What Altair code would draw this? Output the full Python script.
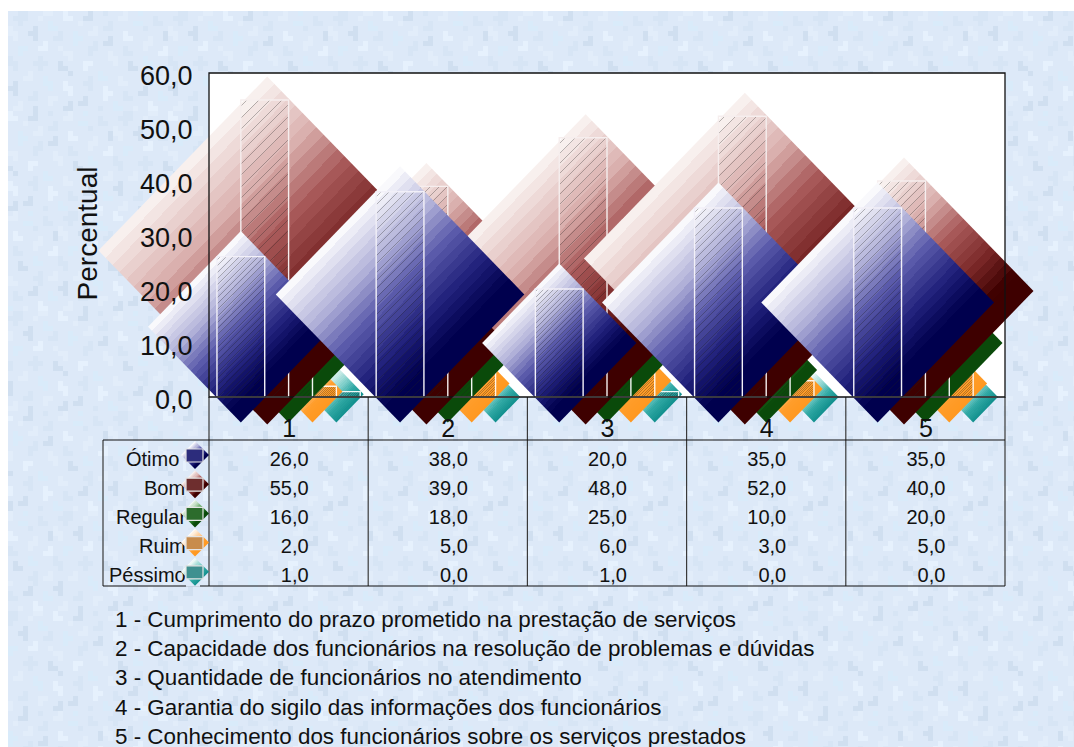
import altair as alt

# Survey results, percent of answers per question
QUESTIONS = [1, 2, 3, 4, 5]
RATINGS = ["Ótimo", "Bom", "Regular", "Ruim", "Péssimo"]
OTIMO = [26.0, 38.0, 20.0, 35.0, 35.0]
BOM = [55.0, 39.0, 48.0, 52.0, 40.0]
REGULAR = [16.0, 18.0, 25.0, 10.0, 20.0]
RUIM = [2.0, 5.0, 6.0, 3.0, 5.0]
PESSIMO = [1.0, 0.0, 1.0, 0.0, 0.0]
SERIES = [OTIMO, BOM, REGULAR, RUIM, PESSIMO]
NOTES = [
    "1 - Cumprimento do prazo prometido na prestação de serviços",
    "2 - Capacidade dos funcionários na resolução de problemas e dúvidas",
    "3 - Quantidade de funcionários no atendimento",
    "4 - Garantia do sigilo das informações dos funcionários",
    "5 - Conhecimento dos funcionários sobre os serviços prestados",
]

# Layout of the page, in pixels
PLOT_L, PLOT_T, PLOT_W, PLOT_H = 209, 73, 796, 324
TABLE_L, TABLE_T, TABLE_B = 103, 440, 586
FONT = "Liberation Sans"
Y_MAX = 60
PX_PER_UNIT = PLOT_H / Y_MAX
PX_PER_QUESTION = PLOT_W / 5
BAR_STEP = 0.15
BAR_WIDTH = 0.30
DIAMOND_PAD = 25.5

# Colour ramps: (position along the ramp, colour)
RAMPS = [
    [(0, "#ffffff"), (0.05, "#f0f0f8"), (0.27, "#b0b0d8"), (0.47, "#5c5cac"), (0.7, "#20207a"), (0.88, "#00004e"), (1, "#00004e")],
    [(0, "#fbf5f3"), (0.05, "#f4e8e6"), (0.27, "#dab0ae"), (0.47, "#a95a5a"), (0.68, "#7a2828"), (0.86, "#3e0000"), (1, "#3e0000")],
    [(0, "#ffffff"), (0.05, "#e6f2e6"), (0.27, "#a8d0a8"), (0.47, "#5aa05a"), (0.68, "#1f701f"), (0.86, "#0a4a0a"), (1, "#0a4a0a")],
    [(0, "#ffffff"), (0.1, "#fff0df"), (0.45, "#ffc689"), (0.7, "#ff9d2b"), (1, "#ff981f")],
    [(0, "#ffffff"), (0.1, "#dff3f0"), (0.45, "#7fcfca"), (0.7, "#30a8a4"), (1, "#118f8d")],
]
BAR_STROKES = ["#f2f0f8", "#f6eeee", "#f2f6f2", "#fff4e8", "#eef8f6"]
KEY_FILLS = ["#2c2c7c", "#6e2e2e", "#2c6c2c", "#c88c4c", "#3e9090"]
HATCH = "rgba(30,30,30,0.30)"
CLEAR = "rgba(30,30,30,0)"

# Repeating tile of the page background, one character per 5 px cell
TILE = [
    "..11...33..4....2..1...3..5.....",
    ".111..3....44..22.....33.....1..",
    "..1.....5.....3.....1....55..11.",
    "3....2..55.......3.11......1....",
    "33..22....1..5..33.....4.......2",
    ".3...2...11..55.....2..44...3..2",
    ".......4.....5...1.22......33...",
    "..55..44..3.....11.....1...3...4",
    "..5........33...1...3..11.....44",
    "1.....1.....3.......33.....5....",
    "11...111..2....44....3..2..55...",
    ".1....1...22...4........22......",
    "....3.......2.....5.........1..3",
    "...33..5........1.55..3....11.33",
    ".2.....55..4...11.....33....1...",
    "22......5..44...1..4.......2....",
    ".2...1......4......44..1..22..5.",
    "....11..33.....2...4...11.....55",
    "..3.....3...2.22.....5......4...",
    ".33..2.....22.....1..55..3..44..",
]
SHADES = {"1": "#d7e5f5", "2": "#d0dff0", "3": "#e2edfa", "4": "#e6f1fd", "5": "#d9ebfa"}
PAGE_BASE = "#dde9f8"


def hex_rgb(c):
    return [int(c[i:i + 2], 16) for i in (1, 3, 5)]


def ramp_colour(ramp, f):
    for (p0, c0), (p1, c1) in zip(ramp, ramp[1:]):
        if f <= p1:
            t = (f - p0) / (p1 - p0)
            rgb = [round(a + (b - a) * t) for a, b in zip(hex_rgb(c0), hex_rgb(c1))]
            return "#%02x%02x%02x" % tuple(rgb)
    return ramp[-1][1]


def banded_fill(ramp, bands=24):
    """Stepped diagonal gradient running from the upper-left to the lower-right edge."""
    stops = []
    for b in range(bands):
        col = ramp_colour(ramp, (b + 0.5) / bands)
        stops.append({"offset": round(0.25 + 0.5 * b / bands, 4), "color": col})
        stops.append({"offset": round(0.25 + 0.5 * (b + 1) / bands, 4), "color": col})
    return {"gradient": "linear", "x1": 0, "y1": 0, "x2": 1, "y2": 1, "stops": stops}


def hatch_fill(w, h, lines=30):
    """Thin 45 degree lines inside a w x h box, drawn as a hard-stopped gradient."""
    span = w + h
    stops = []
    thick = 1.0 / span
    for k in range(lines):
        a = (k + 0.5) / lines
        b = min(a + thick, 0.999)
        stops += [
            {"offset": round(a, 5), "color": CLEAR},
            {"offset": round(a, 5), "color": HATCH},
            {"offset": round(b, 5), "color": HATCH},
            {"offset": round(b, 5), "color": CLEAR},
        ]
    d = w * w + h * h
    return {"gradient": "linear", "x1": 0, "y1": 0, "x2": w * span / d, "y2": h * span / d, "stops": stops}


x_scale = alt.Scale(domain=[0.5, 5.5], nice=False, zero=False)
y_scale = alt.Scale(domain=[0, Y_MAX], nice=False)
x_axis = alt.Axis(
    values=QUESTIONS, format="d", grid=False, domain=False, ticks=False, zindex=1, title=None,
    labelFont=FONT, labelFontSize=25, labelColor="#111", labelPadding=19, labelFlush=False, labelOverlap=False,
)
y_axis = alt.Axis(
    values=list(range(0, 61, 10)),
    labelExpr="replace(format(datum.value,'.1f'),'.',',')",
    grid=False, domain=False, ticks=False, zindex=1, title="Percentual",
    labelFont=FONT, labelFontSize=27, labelColor="#111", labelPadding=17, labelOverlap=False, labelOffset=3,
    titleFont=FONT, titleFontSize=28, titleFontWeight="normal", titleColor="#111", titlePadding=37, titleY=160,
)
px_x = lambda f: alt.X(f, type="quantitative", scale=None, axis=None)
px_y = lambda f: alt.Y(f, type="quantitative", scale=None, axis=None)
on_x = lambda f: alt.X(f, type="quantitative", scale=x_scale, axis=x_axis)
on_y = lambda f: alt.Y(f, type="quantitative", scale=y_scale, axis=y_axis)
DIAMOND = "M-0.97,0L0,-1L0.97,0L0,1Z"

layers = []

# Page background
cells = []
for r in range(0, (747 - 11) // 5 + 1):
    row = TILE[r % len(TILE)]
    shift = 11 * (r // len(TILE))
    for c in range(0, (1074 - 8) // 5 + 1):
        ch = row[(c + shift) % len(row)]
        if ch != ".":
            x = 8 + c * 5 - PLOT_L
            y = 11 + r * 5 - PLOT_T
            cells.append({"x": x, "x2": x + 5, "y": y, "y2": y + 5, "c": SHADES[ch]})
layers.append(
    alt.Chart(alt.Data(values=[{"x": 8 - PLOT_L, "x2": 1074 - PLOT_L, "y": 11 - PLOT_T, "y2": 747 - PLOT_T}]))
    .mark_rect(fill=PAGE_BASE)
    .encode(x=px_x("x"), x2="x2:Q", y=px_y("y"), y2="y2:Q")
)
layers.append(
    alt.Chart(alt.Data(values=cells))
    .mark_rect(strokeWidth=0)
    .encode(x=px_x("x"), x2="x2:Q", y=px_y("y"), y2="y2:Q", fill=alt.Fill("c:N", scale=None, legend=None))
)

# White plot area
layers.append(
    alt.Chart(alt.Data(values=[{"x0": 0.5, "x1": 5.5, "y0": 0, "y1": Y_MAX}]))
    .mark_rect(fill="white")
    .encode(x=on_x("x0"), x2="x1:Q", y=on_y("y0"), y2="y1:Q")
)

# Table grid
layers.append(
    alt.Chart(alt.Data(values=[{"e": q - 0.5, "a": PLOT_H, "b": TABLE_B - PLOT_T} for q in QUESTIONS + [6]]))
    .mark_rule(color="#3a3a3a", strokeWidth=1.2)
    .encode(x=on_x("e"), y=px_y("a"), y2="b:Q")
)
layers.append(
    alt.Chart(alt.Data(values=[{"x": TABLE_L - PLOT_L, "a": TABLE_T - PLOT_T, "b": TABLE_B - PLOT_T}]))
    .mark_rule(color="#3a3a3a", strokeWidth=1.2)
    .encode(x=px_x("x"), y=px_y("a"), y2="b:Q")
)
layers.append(
    alt.Chart(alt.Data(values=[{"a": TABLE_L - PLOT_L, "b": PLOT_W, "y": yy - PLOT_T} for yy in (TABLE_T, TABLE_B)]))
    .mark_rule(color="#111", strokeWidth=1.2)
    .encode(x=px_x("a"), x2="b:Q", y=px_y("y"))
)

# One diamond plus one hatched bar per answer; the lowest rating is painted
# first, so the "Ótimo" series ends up on top of everything else
for si in reversed(range(len(RATINGS))):
    for qi, q in enumerate(QUESTIONS):
        value = SERIES[si][qi]
        bar_h = value * PX_PER_UNIT
        bar_w = BAR_WIDTH * PX_PER_QUESTION
        half = DIAMOND_PAD + bar_h / 2
        centre = q + (si - 2) * BAR_STEP
        # the "Bom" diamonds sit a little right of and below their bars
        shift_x = 2.5 / PX_PER_QUESTION if si == 1 else 0
        shift_y = 2 / PX_PER_UNIT if si == 1 else 0
        layers.append(
            alt.Chart(alt.Data(values=[{
                "x": centre + shift_x,
                "y": value / 2 - shift_y,
                "s": (2 * half) ** 2,
            }]))
            .mark_point(shape=DIAMOND, filled=True, fill=banded_fill(RAMPS[si]), opacity=1, strokeWidth=0)
            .encode(x=on_x("x"), y=on_y("y"), size=alt.Size("s:Q", scale=None, legend=None))
        )
        mark_args = {"stroke": BAR_STROKES[si], "strokeWidth": 1.4}
        if value > 0:
            mark_args["fill"] = hatch_fill(bar_w, bar_h)
        else:
            mark_args["fillOpacity"] = 0
        layers.append(
            alt.Chart(alt.Data(values=[{
                "a": centre - BAR_WIDTH / 2, "b": centre + BAR_WIDTH / 2, "v": value, "z": 0,
            }]))
            .mark_rect(**mark_args)
            .encode(x=on_x("a"), x2="b:Q", y=on_y("v"), y2="z:Q")
        )

# Plot frame on top of the marks
layers.append(
    alt.Chart(alt.Data(values=[{"x0": 0.5, "x1": 5.5, "y0": 0, "y1": Y_MAX}]))
    .mark_rect(fillOpacity=0, stroke="#111", strokeWidth=1.3)
    .encode(x=on_x("x0"), x2="x1:Q", y=on_y("y0"), y2="y1:Q")
)

# Table values
ROW_TOP = 459.5
ROW_STEP = 29.2
table_rows = []
for si, vals in enumerate(SERIES):
    for q, v in zip(QUESTIONS, vals):
        table_rows.append({"q": q, "y": ROW_TOP + si * ROW_STEP - PLOT_T, "t": f"{v:.1f}".replace(".", ",")})
layers.append(
    alt.Chart(alt.Data(values=table_rows))
    .mark_text(font=FONT, fontSize=20, align="right", baseline="middle", dx=20, color="#111")
    .encode(x=on_x("q"), y=px_y("y"), text="t:N")
)

# Row headings and their keys
LABEL_LEFT = [126, 144, 116, 139, 109]
layers.append(
    alt.Chart(alt.Data(values=[
        {"x": l - PLOT_L, "y": ROW_TOP + i * ROW_STEP - PLOT_T, "t": t}
        for i, (l, t) in enumerate(zip(LABEL_LEFT, RATINGS))
    ]))
    .mark_text(font=FONT, fontSize=20, align="left", baseline="middle", color="#111")
    .encode(x=px_x("x"), y=px_y("y"), text="t:N")
)
KEY_X = 195
KEY_TOP = 455
layers.append(
    alt.Chart(alt.Data(values=[
        {"a": 186 - PLOT_L, "b": 200 - PLOT_L, "c": KEY_TOP + i * ROW_STEP - 13 - PLOT_T, "d": KEY_TOP + i * ROW_STEP + 15 - PLOT_T}
        for i in range(5)
    ]))
    .mark_rect(fill=PAGE_BASE)
    .encode(x=px_x("a"), x2="b:Q", y=px_y("c"), y2="d:Q")
)
for si in range(5):
    ky = KEY_TOP + si * ROW_STEP - PLOT_T
    layers.append(
        alt.Chart(alt.Data(values=[{"x": KEY_X - PLOT_L, "y": ky, "s": 28 ** 2}]))
        .mark_point(shape="diamond", filled=True, fill=banded_fill(RAMPS[si]), opacity=1, strokeWidth=0)
        .encode(x=px_x("x"), y=px_y("y"), size=alt.Size("s:Q", scale=None, legend=None))
    )
    layers.append(
        alt.Chart(alt.Data(values=[{"a": 186 - PLOT_L, "b": 203 - PLOT_L, "c": ky - 6, "d": ky + 7}]))
        .mark_rect(fill=KEY_FILLS[si], stroke="#e4e4e4", strokeWidth=1.2)
        .encode(x=px_x("a"), x2="b:Q", y=px_y("c"), y2="d:Q")
    )

# Question captions
NOTE_TOP = 620
NOTE_STEP = 29.2
layers.append(
    alt.Chart(alt.Data(values=[
        {"x": 115 - PLOT_L, "y": NOTE_TOP + i * NOTE_STEP - PLOT_T, "t": t} for i, t in enumerate(NOTES)
    ]))
    .mark_text(font=FONT, fontSize=22.4, align="left", baseline="middle", color="#111")
    .encode(x=px_x("x"), y=px_y("y"), text="t:N")
)

chart = (
    alt.layer(*layers)
    .properties(
        width=PLOT_W,
        height=PLOT_H,
        autosize=alt.AutoSizeParams(type="none"),
        padding={"left": PLOT_L, "top": PLOT_T, "right": 1074 - PLOT_L - PLOT_W, "bottom": 747 - PLOT_T - PLOT_H},
        background="white",
    )
    .configure_view(stroke=None)
)

chart.save("out.html", embed_options={"renderer": "svg", "actions": False})
